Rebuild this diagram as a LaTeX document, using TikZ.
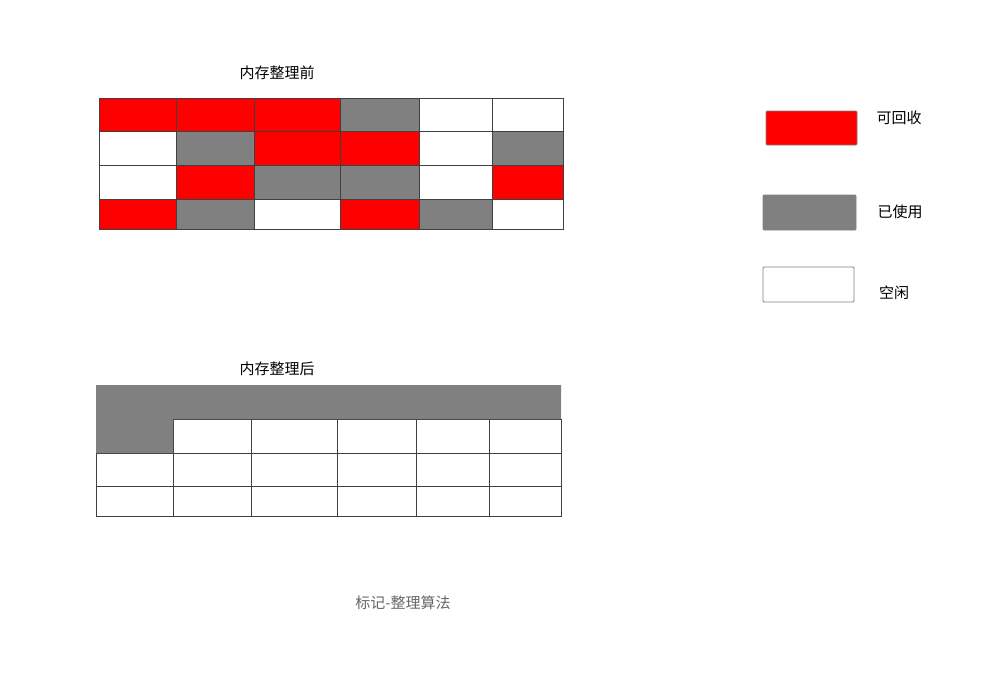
\documentclass[tikz,border=0pt]{standalone}
\usepackage{fontspec}
\setmainfont{Noto Sans CJK SC}
\definecolor{kept}{RGB}{128,128,128}
\tikzset{
  cellbox/.style={draw=black!75, line width=0.6pt},
  keybox/.style={draw=black!50, line width=0.9pt, rounded corners=1pt},
  lbl/.style={font=\fontsize{15}{18}\selectfont, inner sep=0pt},
}
\begin{document}
\begin{tikzpicture}[x=1pt,y=-1pt]  % ------ marquage-compactage -------------------
\useasboundingbox (0,0) rectangle (996,696);
  % avant
  \node[lbl] (titleA) at (277,73) {内存整理前};
  \foreach \xa/\xb/\c in {99/176/red,176/254/red,254/340/red,340/419/kept,419/492/white,492/563/white}
     \draw[cellbox, fill=\c] (\xa,98) rectangle (\xb,131);
  \foreach \xa/\xb/\c in {99/176/white,176/254/kept,254/340/red,340/419/red,419/492/white,492/563/kept}
     \draw[cellbox, fill=\c] (\xa,131) rectangle (\xb,165);
  \foreach \xa/\xb/\c in {99/176/white,176/254/red,254/340/kept,340/419/kept,419/492/white,492/563/red}
     \draw[cellbox, fill=\c] (\xa,165) rectangle (\xb,199);
  \foreach \xa/\xb/\c in {99/176/red,176/254/kept,254/340/white,340/419/red,419/492/kept,492/563/white}
     \draw[cellbox, fill=\c] (\xa,199) rectangle (\xb,229);
  % apres
  \node[lbl] (titleB) at (277,369) {内存整理后};
  \foreach \xa/\xb in {96/173,173/251,251/337,337/416,416/489,489/561} {
     \draw[cellbox, fill=white] (\xa,419) rectangle (\xb,453);
     \draw[cellbox, fill=white] (\xa,453) rectangle (\xb,486);
     \draw[cellbox, fill=white] (\xa,486) rectangle (\xb,516);
  }
  \fill[kept] (96,385) -- (561,385) -- (561,419) -- (173,419) -- (173,453) -- (96,453) -- cycle;
  % legende
  \draw[keybox, fill=red] (766,111) rectangle (857,145);
  \node[lbl] (kRed) at (899,118) {可回收};
  \draw[keybox, fill=kept] (763,195) rectangle (856,230);
  \node[lbl] (kUsed) at (900,212) {已使用};
  \draw[keybox, fill=white] (763,267) rectangle (854,302);
  \node[lbl] (kFree) at (894,293) {空闲};
  \node[lbl, text=black!60] (caption) at (403,603) {标记-整理算法};
\end{tikzpicture}
\end{document}
